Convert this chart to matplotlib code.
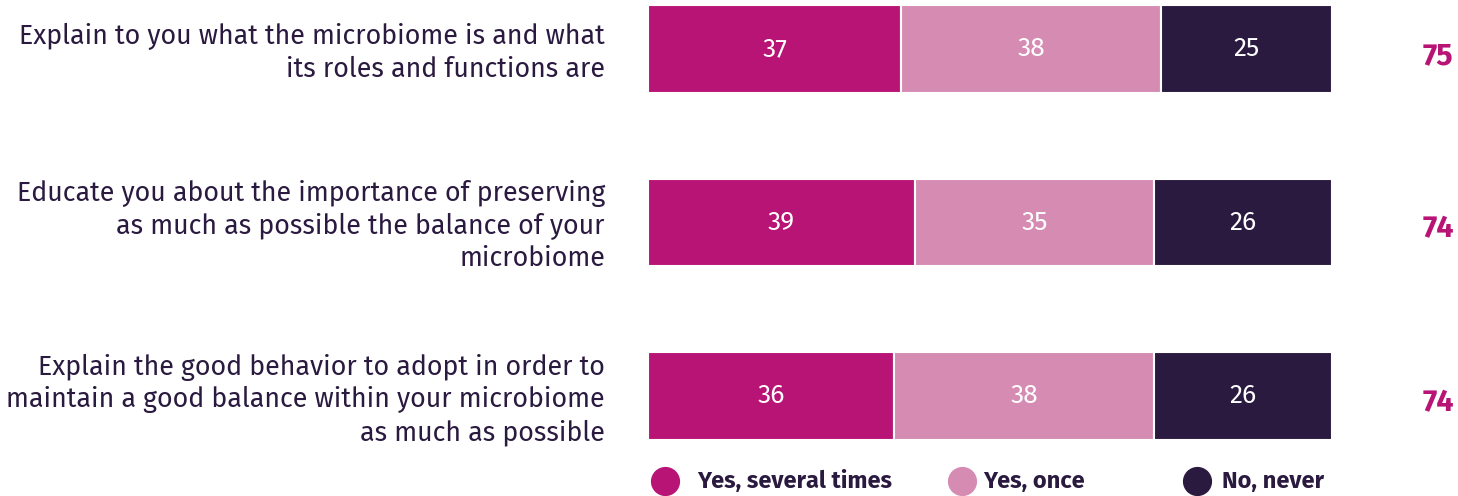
import numpy as np
import matplotlib.pyplot as plt

questions = [
    'Explain to you what the microbiome is and what\nits roles and functions are',
    'Educate you about the importance of preserving\nas much as possible the balance of your\nmicrobiome',
    'Explain the good behavior to adopt in order to\nmaintain a good balance within your microbiome\nas much as possible',
]
series = ['Yes, several times', 'Yes, once', 'No, never']
several = [37, 39, 36]
once = [38, 35, 38]
never = [25, 26, 26]
totals = [75, 74, 74]

colors = ['#B81476', '#D68BB3', '#2A1A3F']
text_col = '#2A1A3F'

plt.rcParams['font.family'] = ['Fira Sans', 'Open Sans', 'DejaVu Sans']

W, H = 1458, 496
fig = plt.figure(figsize=(W/100, H/100), dpi=100)
ax = fig.add_axes([648/W, 1-440/H, (1332-648)/W, (440-5)/H])

y = np.arange(len(questions))
h = 0.507
left = np.zeros(len(questions))
for vals, c in zip([several, once, never], colors):
    ax.barh(y, vals, left=left, height=h, color=c, edgecolor='white', linewidth=1.5)
    for yi, l, v in zip(y, left, vals):
        ax.text(l + v/2, yi, str(v), ha='center', va='center', color='white', fontsize=19)
    left += np.array(vals)

for yi, q, t in zip(y, questions, totals):
    ax.text(-6.3, yi + 0.02, q, ha='right', va='center', fontsize=19.3, color=text_col,
            linespacing=1.26, clip_on=False)
    ax.text(115.5, yi + 0.04, str(t), ha='center', va='center', fontsize=22,
            fontweight='bold', color=colors[0], clip_on=False)

ax.set_xlim(0, 100)
ax.set_ylim(h/2 + 2, -h/2)
ax.axis('off')

# legend
dot_x = [665, 962, 1197]
lab_x = [697, 983, 1222]
for dx, tx, s, c in zip(dot_x, lab_x, series, colors):
    fig.text(tx/W, 1-481/H, s, ha='left', va='center', fontsize=17,
             fontweight='bold', color=text_col)
    ax.scatter([(dx-648)/6.84], [2 + h/2 + (481-440)/435*(2+h)], s=400, color=c,
               clip_on=False)

fig.savefig('out.png', dpi=100, facecolor='white')
